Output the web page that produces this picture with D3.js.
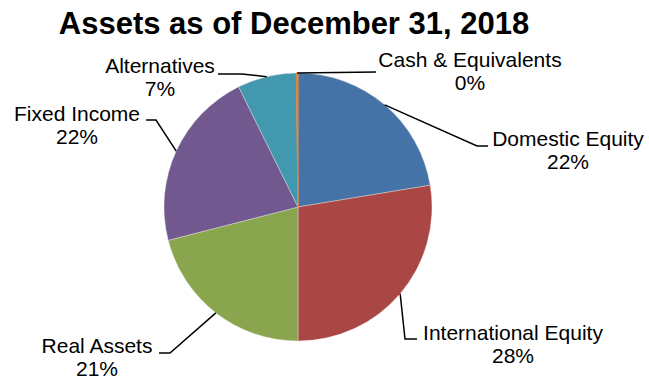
<!DOCTYPE html>
<html>
<head>
<meta charset="utf-8">
<script src="https://cdn.jsdelivr.net/npm/d3@7"></script>
<style>
  html, body { margin: 0; padding: 0; background: #fff; }
  svg { display: block; font-family: "Liberation Sans", Arial, sans-serif; }
</style>
</head>
<body>
<svg id="chart" width="649" height="377"></svg>
<script>
// Asset allocation at year end 2018 (percent of total)
const categories = ["Domestic Equity", "International Equity", "Real Assets", "Fixed Income", "Alternatives", "Cash & Equivalents"];
const shares = [22.4, 27.6, 21.0, 21.7, 7.1, 0.2];
const colors = ["#4572A7", "#AA4643", "#89A54E", "#71588F", "#4198AF", "#DB843D"];

// Label placement: text anchor (centre x, first baseline y) and leader elbow / end points
const labelLayout = [
  { tx: 568, ty: 146, elbow: [477, 146], end: [488, 146] },
  { tx: 513, ty: 340, elbow: [405, 339], end: [417, 339] },
  { tx: 97,  ty: 353, elbow: [170, 353], end: [159, 353] },
  { tx: 77,  ty: 121, elbow: [156, 120], end: [146, 120] },
  { tx: 160, ty: 73,  elbow: [242, 74],  end: [218, 74] },
  { tx: 470, ty: 67,  elbow: [376, 72],  end: [376, 72] }
];

const svg = d3.select("#chart");
const cx = 298, cy = 207, radius = 134;

svg.append("text")
  .attr("x", 294).attr("y", 34)
  .attr("text-anchor", "middle")
  .style("font-size", "31px").style("font-weight", "bold")
  .attr("fill", "#000")
  .text("Assets as of December 31, 2018");

const data = categories.map((c, i) => ({ name: c, value: shares[i], color: colors[i], layout: labelLayout[i] }));

const pie = d3.pie().value(d => d.value).sort(null);
const arcs = pie(data);
const arc = d3.arc().innerRadius(0).outerRadius(radius);

const g = svg.append("g").attr("transform", `translate(${cx},${cy})`);

// Very thin slices keep their own colour on the border so they stay visible
g.selectAll("path.slice")
  .data(arcs)
  .join("path")
  .attr("class", "slice")
  .attr("d", arc)
  .attr("fill", d => d.data.color)
  .attr("stroke", d => (d.endAngle - d.startAngle) < 0.05 ? d.data.color : "#e8e8e8")
  .attr("stroke-width", d => (d.endAngle - d.startAngle) < 0.05 ? 1 : 0.4);

// Leader lines from slice edge to label
svg.selectAll("polyline.leader")
  .data(arcs)
  .join("polyline")
  .attr("class", "leader")
  .attr("fill", "none")
  .attr("stroke", "#000")
  .attr("stroke-width", 1.5)
  .attr("points", d => {
    const a = (d.startAngle + d.endAngle) / 2;
    const sx = cx + radius * Math.sin(a), sy = cy - radius * Math.cos(a);
    const L = d.data.layout;
    return [[sx, sy], L.elbow, L.end].map(p => p.join(",")).join(" ");
  });

const labels = svg.selectAll("text.lbl")
  .data(arcs)
  .join("text")
  .attr("class", "lbl")
  .attr("text-anchor", "middle")
  .attr("fill", "#000")
  .style("font-size", "21px");

labels.append("tspan")
  .attr("x", d => d.data.layout.tx)
  .attr("y", d => d.data.layout.ty)
  .text(d => d.data.name);
labels.append("tspan")
  .attr("x", d => d.data.layout.tx)
  .attr("y", d => d.data.layout.ty + 23)
  .text(d => Math.round(d.data.value) + "%");
</script>
</body>
</html>
